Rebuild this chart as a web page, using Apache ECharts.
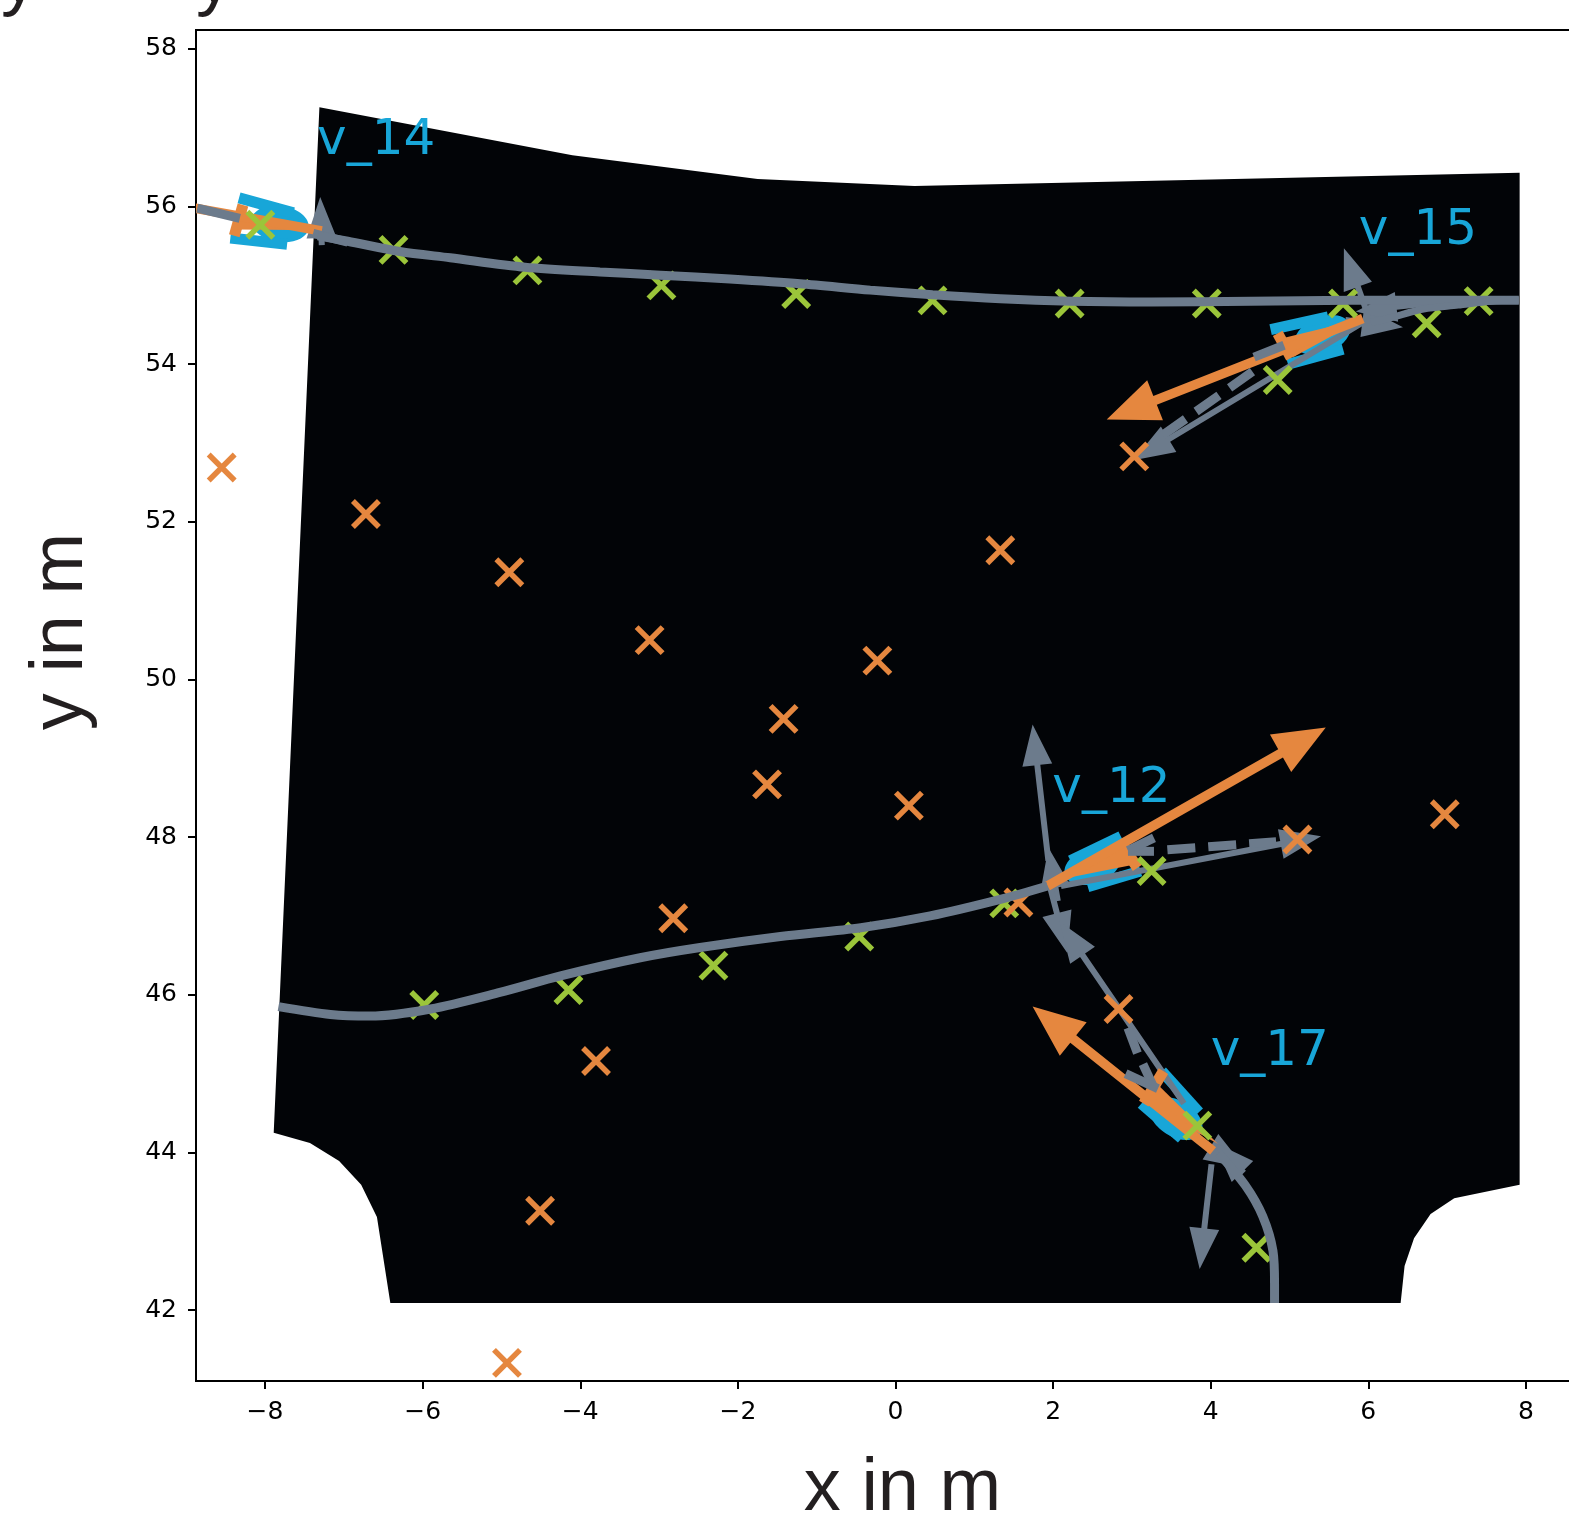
<!DOCTYPE html>
<html><head><meta charset="utf-8">
<style>html,body{margin:0;padding:0;background:#fff;overflow:hidden}#c{width:1569px;height:1518px}</style>
<script src="https://cdn.jsdelivr.net/npm/echarts@6/dist/echarts.min.js"></script>
</head><body><div id="c"></div>
<script>
const xTicks=[-8,-6,-4,-2,0,2,4,6,8];
const yTicks=[42,44,46,48,50,52,54,56,58];
const xName='x in m', yName='y in m';
const roadOutline=[[-7.31,57.26],[-4.10,56.65],[-1.75,56.35],[0.24,56.26],[7.92,56.43],[7.92,43.59],[7.09,43.42],[6.79,43.22],[6.58,42.91],[6.46,42.56],[6.41,42.09],[-6.41,42.09],[-6.58,43.18],[-6.78,43.59],[-7.06,43.89],[-7.43,44.12],[-7.89,44.25]];
const pathV14=[[-7.33,55.63],[-6.95,55.56],[-6.29,55.43],[-5.65,55.35],[-4.70,55.23],[-3.75,55.17],[-2.98,55.13],[-2.10,55.08],[-1.21,55.02],[-0.32,54.94],[0.47,54.88],[1.33,54.83],[2.22,54.80],[3.24,54.79],[4.51,54.80],[5.78,54.81],[6.92,54.81],[7.91,54.81]];
const pathV15=[[7.91,54.81],[7.56,54.80],[7.14,54.75],[6.70,54.70],[6.25,54.58],[6.03,54.53]];
const pathV12=[[-7.83,45.85],[-7.17,45.75],[-6.67,45.73],[-5.90,45.82],[-5.02,46.03],[-4.25,46.24],[-3.24,46.47],[-2.48,46.60],[-1.46,46.74],[-0.44,46.85],[0.44,47.00],[1.33,47.21],[1.93,47.38]];
const pathV17=[[4.81,42.09],[4.81,42.33],[4.79,42.75],[4.66,43.19],[4.44,43.58],[4.10,43.99]];
const greenPoints=[[-8.06,55.77],[-6.37,55.45],[-4.67,55.19],[-2.97,55.00],[-1.26,54.89],[0.47,54.81],[2.21,54.77],[3.95,54.77],[5.68,54.77],[7.40,54.80],[6.74,54.52],[4.85,53.80],[1.38,47.16],[3.25,47.57],[-0.46,46.74],[-2.31,46.37],[-4.15,46.06],[-5.98,45.87],[3.83,44.34],[4.58,42.79]];
const orangePoints=[[-8.55,52.69],[-6.72,52.10],[-4.90,51.36],[-3.12,50.50],[-1.42,49.50],[-1.63,48.67],[-0.23,50.24],[1.33,51.64],[0.17,48.40],[3.03,52.83],[1.56,47.17],[5.10,47.97],[6.97,48.29],[-2.82,46.97],[-3.80,45.16],[2.83,45.82],[-4.51,43.26],[-4.93,41.33]];
const grayArrows=[[-7.28,55.51,-7.30,56.12],[6.03,54.53,5.69,55.47],[5.93,54.53,3.02,52.78],[5.71,54.56,6.44,54.47],[6.92,54.79,5.84,54.67],[1.94,47.70,1.74,49.43],[2.06,47.19,1.94,47.87],[2.10,47.38,5.40,48.01],[1.94,47.45,2.18,46.53],[3.66,44.62,2.08,46.93],[3.87,44.15,4.44,43.80],[4.42,43.74,4.04,44.13],[4.01,43.85,3.86,42.52]];
const orangeArrows=[[-7.28,55.69,-9.84,56.15],[5.93,54.58,2.68,53.30],[1.93,47.38,5.46,49.39],[4.03,44.02,1.74,45.85]];
const yawWedges=[[-7.28,55.70,-8.30,55.94,-8.36,55.71],[5.94,54.58,4.91,54.33,5.05,54.09],[1.92,47.43,2.92,47.92,3.02,47.65],[4.09,44.11,3.33,44.86,3.15,44.63]];
const rearBars=[[-8.28,56.02,-8.39,55.63],[4.85,54.39,5.02,54.08],[2.90,47.87,3.07,47.61],[3.40,45.03,3.15,44.62]];
const carSides=[[-8.33,56.11,-7.64,55.92],[-8.44,55.60,-7.72,55.52],[4.76,54.44,5.49,54.60],[4.98,54.00,5.68,54.19],[2.22,47.70,2.86,48.01],[2.44,47.37,3.11,47.57],[3.38,45.03,3.85,44.51],[3.12,44.62,3.63,44.18]];
const carFronts=[[-7.81,55.78,-7.28,55.70],[5.42,54.37,5.94,54.58],[2.50,47.64,1.92,47.43],[3.56,44.43,4.09,44.11]];
const dashLines=[[3.39,53.10,4.55,53.92],[3.45,47.84,4.83,47.94]];
const dashPieces=[[4.55,54.09,4.93,54.24],[2.95,47.82,3.28,47.82],[2.95,47.83,3.28,47.99],[2.95,45.58,3.07,45.26],[3.14,45.12,3.28,44.82],[2.92,45.00,3.33,44.81],[-8.86,55.98,-8.32,55.85],[-7.39,55.66,-6.95,55.55]];
const labelTexts=['v_14','v_15','v_12','v_17'];
const labelPoints=[[-7.34,56.65],[5.88,55.51],[1.99,48.43],[4.00,45.10]];

const GRAY='#6c7b8c',BLUE='#18a6d8',ORANGE='#e5873f',GREEN='#9bc53a',BLACK='#020407',TEXT='#231f20';

function segs(rows,width,color,dash){return {type:'custom',clip:true,silent:true,animation:false,data:rows,
  renderItem:(p,api)=>{const a=api.coord([api.value(0),api.value(1)]),b=api.coord([api.value(2),api.value(3)]);
    return {type:'line',shape:{x1:a[0],y1:a[1],x2:b[0],y2:b[1]},style:{stroke:color,lineWidth:width,lineDash:dash||null,lineCap:'butt',fill:null}};}};}
function arrows(rows,shaft,hl,hw,color){return {type:'custom',clip:true,silent:true,animation:false,data:rows,
  renderItem:(p,api)=>{const a=api.coord([api.value(0),api.value(1)]),b=api.coord([api.value(2),api.value(3)]);
    const dx=b[0]-a[0],dy=b[1]-a[1],n=Math.hypot(dx,dy),ux=dx/n,uy=dy/n,nx=-uy,ny=ux,bx=b[0]-ux*hl,by=b[1]-uy*hl;
    const pts=[[a[0]+nx*shaft/2,a[1]+ny*shaft/2],[bx+nx*shaft/2,by+ny*shaft/2],[bx+nx*hw/2,by+ny*hw/2],b,[bx-nx*hw/2,by-ny*hw/2],[bx-nx*shaft/2,by-ny*shaft/2],[a[0]-nx*shaft/2,a[1]-ny*shaft/2]];
    return {type:'polygon',shape:{points:pts},style:{fill:color}};}};}
function track(data,width){return {type:'line',data,symbol:'none',clip:true,silent:true,animation:false,smooth:0.3,lineStyle:{color:GRAY,width,cap:'butt'}};}
function crosses(data,color){return {type:'scatter',data,symbol:'path://M0 0L10 10M10 0L0 10',symbolSize:26,silent:true,animation:false,itemStyle:{color:'none',borderColor:color,borderWidth:5.5,opacity:1}};}

const option={
  animation:false,backgroundColor:'#fff',
  grid:{show:true,left:196,top:30,right:-40,bottom:137,outerBoundsMode:'none',backgroundColor:'#fff',borderColor:'#000',borderWidth:2,containLabel:false},
  xAxis:{type:'value',min:-8.876,max:9.054,name:xName,nameLocation:'middle',nameGap:72,
    nameTextStyle:{fontFamily:'Liberation Sans',fontSize:74,color:TEXT},
    splitLine:{show:false},axisLine:{show:true,onZero:false,lineStyle:{color:'#000',width:2}},
    axisTick:{show:true,length:8,customValues:xTicks,lineStyle:{color:'#000',width:2}},
    axisLabel:{customValues:xTicks,margin:19,fontFamily:'DejaVu Sans',fontSize:25,color:'#000',formatter:v=>String(v).replace('-','\u2212')}},
  yAxis:{type:'value',min:41.10,max:58.24,name:yName,nameLocation:'middle',nameGap:97,nameRotate:90,
    nameTextStyle:{fontFamily:'Liberation Sans',fontSize:74,color:TEXT,padding:[0,0,0,148]},
    splitLine:{show:false},axisLine:{show:true,onZero:false,lineStyle:{color:'#000',width:2}},
    axisTick:{show:true,length:8,customValues:yTicks,lineStyle:{color:'#000',width:2}},
    axisLabel:{customValues:yTicks,margin:19,fontFamily:'DejaVu Sans',fontSize:25,color:'#000'}},
  graphic:[
    {type:'text',x:1,y:-55,style:{text:'y',font:'73px "Liberation Sans"',fill:TEXT}},
    {type:'text',x:196,y:-55,style:{text:'y',font:'73px "Liberation Sans"',fill:TEXT}}
  ],
  series:[
    {type:'custom',silent:true,animation:false,clip:true,data:[roadOutline[0]],
      renderItem:(p,api)=>({type:'polygon',shape:{points:roadOutline.map(q=>api.coord(q))},style:{fill:BLACK}})},
    {type:'custom',silent:true,animation:false,clip:true,data:carFronts,
      renderItem:(p,api)=>{const c=api.coord([api.value(0),api.value(1)]),t=api.coord([api.value(2),api.value(3)]);
        return {type:'ellipse',x:c[0],y:c[1],rotation:-Math.atan2(t[1]-c[1],t[0]-c[0]),shape:{cx:0,cy:0,rx:29,ry:18},style:{fill:BLUE}};}},
    segs(carSides,11,BLUE),
    track(pathV14,9),track(pathV15,7),track(pathV12,9),track(pathV17,9),
    arrows(grayArrows,6,41,30,GRAY),
    segs(rearBars,11,ORANGE),
    {type:'custom',silent:true,animation:false,clip:true,data:yawWedges,
      renderItem:(p,api)=>({type:'polygon',shape:{points:[[0,1],[2,3],[4,5]].map(i=>api.coord([api.value(i[0]),api.value(i[1])]))},style:{fill:ORANGE}})},
    arrows(orangeArrows,9.5,52,43,ORANGE),
    segs(dashLines,9,GRAY,[28,13]),
    segs(dashPieces,9,GRAY),
    crosses(greenPoints,GREEN),crosses(orangePoints,ORANGE),
    {type:'custom',silent:true,animation:false,clip:false,data:labelPoints,
      renderItem:(p,api)=>{const c=api.coord([api.value(0),api.value(1)]);
        return {type:'text',x:c[0],y:c[1]+11,style:{text:labelTexts[p.dataIndex],font:'50px "DejaVu Sans"',fill:BLUE,verticalAlign:'bottom',align:'left'}};}}
  ]
};
echarts.init(document.getElementById('c'),null,{renderer:'canvas'}).setOption(option);
</script></body></html>
